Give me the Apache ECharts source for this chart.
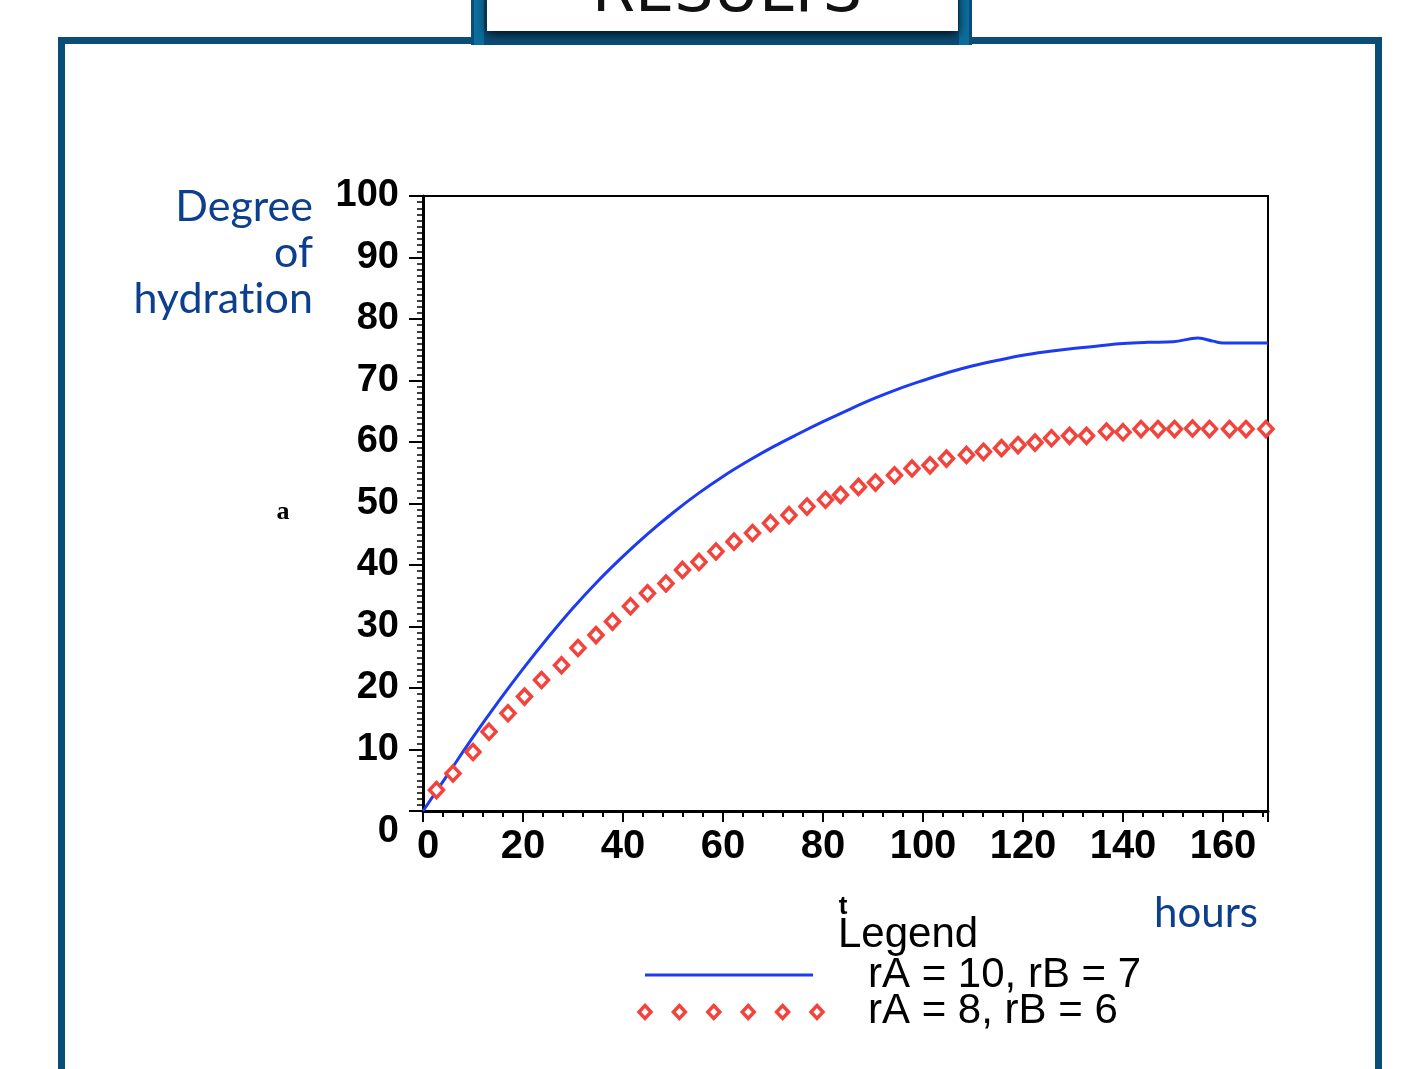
<!DOCTYPE html>
<html>
<head>
<meta charset="utf-8">
<script src="https://cdn.jsdelivr.net/npm/echarts@6/dist/echarts.min.js"></script>
<style>
html,body{margin:0;padding:0;background:#fff;}
#chart{width:1410px;height:1069px;}
</style>
</head>
<body>
<div id="chart"></div>
<script>
// ---- data ----
var xTickLabels = ['0','20','40','60','80','100','120','140','160'];
var yTickLabels = ['0','10','20','30','40','50','60','70','80','90','100'];

var seriesNames = ['rA = 10, rB = 7', 'rA = 8, rB = 6'];

// blue curve: time (hours) and degree of hydration
var blueT = [0, 5, 10, 15, 20, 25, 30, 35, 40, 45, 50, 55, 60, 65, 70, 75, 80, 85, 90, 95, 100, 105, 110, 115, 120, 125, 130, 135, 140, 145, 150, 155, 158, 160, 169];
var blueV = [0, 6.0, 12.0, 17.7, 23.1, 28.2, 33.0, 37.4, 41.4, 45.1, 48.5, 51.6, 54.4, 56.9, 59.2, 61.3, 63.3, 65.2, 67.0, 68.6, 70.0, 71.3, 72.4, 73.3, 74.1, 74.7, 75.2, 75.6, 76.0, 76.2, 76.3, 76.9, 76.4, 76.1, 76.1];

// red diamonds: time (hours) and degree of hydration
var redT = [2.7, 6.0, 10.0, 13.2, 17.0, 20.3, 23.7, 27.7, 31.0, 34.6, 37.9, 41.5, 44.9, 48.6, 51.9, 55.2, 58.6, 62.2, 65.9, 69.5, 73.2, 76.8, 80.5, 83.5, 87.1, 90.5, 94.3, 97.8, 101.4, 104.7, 108.7, 112.1, 115.7, 119.0, 122.4, 125.7, 129.3, 132.7, 136.7, 140.0, 143.6, 147.0, 150.3, 153.9, 157.3, 161.3, 164.6, 168.6];
var redV = [3.4, 6.1, 9.6, 12.9, 15.9, 18.6, 21.3, 23.7, 26.5, 28.6, 30.8, 33.3, 35.4, 37.0, 39.2, 40.5, 42.2, 43.8, 45.2, 46.8, 48.1, 49.5, 50.6, 51.4, 52.7, 53.4, 54.6, 55.7, 56.2, 57.3, 57.9, 58.4, 59.0, 59.5, 59.9, 60.6, 61.0, 61.0, 61.7, 61.6, 62.1, 62.1, 62.1, 62.2, 62.1, 62.1, 62.1, 62.1];

var blueColor = '#1d3cf2';
var redColor = '#f2443c';
var navy = '#0b4d79';
var textBlue = '#0c3f8e';

var chart = echarts.init(document.getElementById('chart'), null, {renderer: 'canvas'});

function pairs(a, b) { return a.map(function (v, i) { return [v, b[i]]; }); }

var legendLeft = 645, legendStep = 34.4;
var legendDiamonds = [];
for (var i = 0; i < 6; i++) {
  var cx = legendLeft + i * legendStep, cy = 1012;
  legendDiamonds.push({
    type: 'polygon',
    shape: {points: [[cx, cy - 6.5], [cx + 6, cy], [cx, cy + 6.5], [cx - 6, cy]]},
    style: {fill: '#fff', stroke: redColor, lineWidth: 3.5}
  });
}

var option = {
  backgroundColor: '#fff',
  animation: false,
  grid: {left: 423, top: 196, right: 142, bottom: 258, show: true, borderColor: '#000', borderWidth: 2, backgroundColor: 'transparent'},
  xAxis: {
    type: 'value', min: 0, max: 169, interval: 20,
    axisLine: {show: true, onZero: false, lineStyle: {color: '#000', width: 3}},
    axisTick: {show: true, length: 11, lineStyle: {color: '#000', width: 2}},
    minorTick: {show: true, splitNumber: 5, length: 6, lineStyle: {color: '#000', width: 2}},
    splitLine: {show: false},
    axisLabel: {
      showMaxLabel: false, margin: 16, color: '#000', fontFamily: 'Liberation Sans', fontWeight: 'bold', fontSize: 40,
      formatter: function (v) {
        var s = String(v);
        if (xTickLabels.indexOf(s) < 0) return '';
        return v === 0 ? '{z|0}' : s;
      },
      rich: {z: {padding: [0, 0, 0, 10], color: '#000', fontFamily: 'Liberation Sans', fontWeight: 'bold', fontSize: 40}}
    }
  },
  yAxis: {
    type: 'value', min: 0, max: 100, interval: 10,
    axisLine: {show: true, onZero: false, lineStyle: {color: '#000', width: 3}},
    axisTick: {show: true, length: 14, lineStyle: {color: '#000', width: 2}},
    minorTick: {show: true, splitNumber: 10, length: 6, lineStyle: {color: '#000', width: 1.5}},
    splitLine: {show: false},
    axisLabel: {
      margin: 24, color: '#000', fontFamily: 'Liberation Sans', fontWeight: 'bold', fontSize: 38,
      formatter: function (v) {
        var s = String(v);
        if (yTickLabels.indexOf(s) < 0) return '';
        return v === 0 ? '{z|0}' : s;
      },
      rich: {z: {padding: [42, 0, 0, 0], color: '#000', fontFamily: 'Liberation Sans', fontWeight: 'bold', fontSize: 38}}
    }
  },
  series: [
    {
      name: seriesNames[0], type: 'line', data: pairs(blueT, blueV), smooth: 0.4, showSymbol: false,
      lineStyle: {color: blueColor, width: 3}, z: 3
    },
    {
      name: seriesNames[1], type: 'scatter', data: pairs(redT, redV), symbol: 'diamond', symbolSize: [14, 15],
      itemStyle: {color: '#fff', borderColor: redColor, borderWidth: 3.5, opacity: 1}, z: 4
    }
  ],
  graphic: [
    // outer frame
    {type: 'rect', shape: {x: 61.5, y: 40.5, width: 1317, height: 1100}, style: {fill: 'none', stroke: navy, lineWidth: 7}, z: 1},
    // header tab
    {type: 'rect', shape: {x: 471, y: -10, width: 501, height: 55}, style: {fill: navy}, z: 2},
    {type: 'rect', shape: {x: 474, y: -10, width: 10, height: 55}, style: {fill: '#0c6e9c'}, z: 2},
    {type: 'rect', shape: {x: 959, y: -10, width: 10, height: 55}, style: {fill: '#0c6e9c'}, z: 2},
    {type: 'rect', shape: {x: 487, y: -10, width: 471, height: 41}, style: {fill: '#fff', shadowBlur: 10, shadowColor: 'rgba(0,0,0,0.85)', shadowOffsetY: 3}, z: 3},
    {type: 'text', x: 727, y: 26, z: 4, style: {text: 'RESULTS', fill: '#111', font: '62px "DejaVu Sans"', textAlign: 'center', textVerticalAlign: 'bottom'}},
    // axis titles
    {type: 'text', x: 313, y: 184, z: 5, style: {text: 'Degree\nof\nhydrat\u200Cion', fill: textBlue, font: '43px Lato', textAlign: 'right', textVerticalAlign: 'top', lineHeight: 46}},
    {type: 'text', x: 283, y: 512, z: 5, style: {text: 'a', fill: '#000', font: 'bold 26px "Liberation Serif"', textAlign: 'center', textVerticalAlign: 'middle'}},
    {type: 'text', x: 1154, y: 913, z: 5, style: {text: 'hours', fill: textBlue, font: '42px Lato', textAlign: 'left', textVerticalAlign: 'middle'}},
    // legend
    {type: 'text', x: 843, y: 907, z: 5, style: {text: 't', fill: '#000', font: 'bold 26px "Liberation Sans"', textAlign: 'center', textVerticalAlign: 'middle'}},
    {type: 'text', x: 838, y: 935, z: 5, style: {text: 'Legend', fill: '#000', font: '42px "Liberation Sans"', textAlign: 'left', textVerticalAlign: 'middle'}},
    {type: 'line', shape: {x1: 645, y1: 975, x2: 813, y2: 975}, style: {stroke: blueColor, lineWidth: 3}, z: 5},
    {type: 'text', x: 868, y: 975, z: 5, style: {text: seriesNames[0], fill: '#000', font: '42px "Liberation Sans"', textAlign: 'left', textVerticalAlign: 'middle'}},
    {type: 'text', x: 868, y: 1011, z: 5, style: {text: seriesNames[1], fill: '#000', font: '42px "Liberation Sans"', textAlign: 'left', textVerticalAlign: 'middle'}}
  ].concat(legendDiamonds.map(function (d) { d.z = 5; return d; }))
};
chart.setOption(option);
</script>
</body>
</html>
